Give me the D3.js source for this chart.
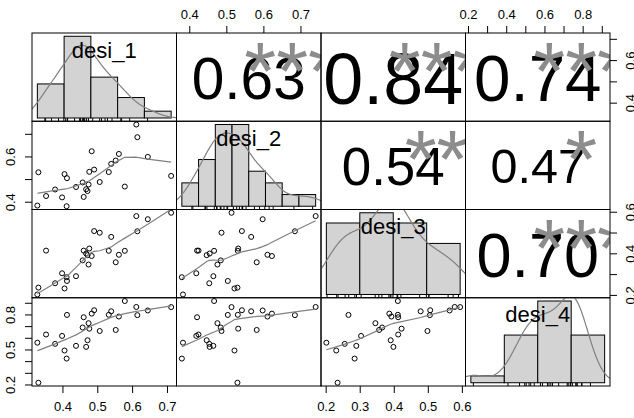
<!DOCTYPE html>
<html>
<head>
<meta charset="utf-8">
<script src="https://cdn.jsdelivr.net/npm/d3@7"></script>
<style>
body { margin: 0; background: #fff; }
text { font-family: "Liberation Sans", Arial, sans-serif; }
</style>
</head>
<body>
<script>
// 27 observations, one value per column
const names = ["desi_1", "desi_2", "desi_3", "desi_4"];
const desi1 = [0.331, 0.328, 0.353, 0.379, 0.399, 0.406, 0.412, 0.413, 0.439, 0.458, 0.461, 0.468, 0.472, 0.475,
  0.477, 0.484, 0.491, 0.507, 0.533, 0.540, 0.553, 0.562, 0.579, 0.612, 0.615, 0.645, 0.712];
const desi2 = [0.530, 0.383, 0.425, 0.454, 0.419, 0.522, 0.380, 0.504, 0.465, 0.485, 0.421, 0.455, 0.447, 0.476,
  0.532, 0.623, 0.542, 0.487, 0.531, 0.567, 0.582, 0.611, 0.467, 0.741, 0.685, 0.598, 0.514];
const desi3 = [0.235, 0.202, 0.413, 0.256, 0.304, 0.231, 0.285, 0.267, 0.290, 0.366, 0.413, 0.399, 0.391, 0.346,
  0.423, 0.387, 0.507, 0.499, 0.412, 0.479, 0.357, 0.393, 0.412, 0.579, 0.506, 0.564, 0.595];
const desi4 = [0.215, 0.558, 0.628, 0.548, 0.616, 0.491, 0.422, 0.796, 0.531, 0.688, 0.776, 0.522, 0.579, 0.725,
  0.678, 0.807, 0.836, 0.658, 0.797, 0.827, 0.667, 0.782, 0.915, 0.864, 0.794, 0.834, 0.863];

// correlations printed in the upper panels: (1,2) (1,3) (1,4) (2,3) (2,4) (3,4)
const corrPairs = [[0, 1], [0, 2], [0, 3], [1, 2], [1, 3], [2, 3]];
const corrVals = [0.63, 0.84, 0.74, 0.54, 0.47, 0.70];
const corrStars = ["***", "***", "***", "**", "*", "***"];

// histogram breaks
const breaks = [
  [0.3, 0.4, 0.5, 0.6, 0.7, 0.8],
  [0.35, 0.4, 0.45, 0.5, 0.55, 0.6, 0.65, 0.7, 0.75],
  [0.2, 0.3, 0.4, 0.5, 0.6],
  [0.2, 0.4, 0.6, 0.8, 1.0]
];

// axis ticks and which of them get a label
const ticks = [
  [0.4, 0.5, 0.6, 0.7],
  [0.4, 0.5, 0.6, 0.7],
  [0.2, 0.3, 0.4, 0.5, 0.6],
  [0.2, 0.3, 0.4, 0.5, 0.6, 0.7, 0.8, 0.9]
];
const hLabels = [[0.4, 0.5, 0.6, 0.7], [0.4, 0.5, 0.6, 0.7], [0.2, 0.3, 0.4, 0.5, 0.6], [0.2, 0.4, 0.6, 0.8]];
const vLabels = [[0.4, 0.6], [0.4, 0.6], [0.2, 0.4, 0.6], [0.2, 0.5, 0.8]];

const W = 634, H = 418;
const padL = 32, padT = 33, pw = 144.5, ph = 88.25;
const vars = [desi1, desi2, desi3, desi4];
const nv = vars.length;
const grey = "#808080", starGrey = "#8c8c8c";

const svg = d3.select("body").append("svg").attr("width", W).attr("height", H);

function padded(e) { const d = (e[1] - e[0]) * 0.04; return [e[0] - d, e[1] + d]; }

const xs = vars.map((v, j) => d3.scaleLinear().domain(padded(d3.extent(v))).range([padL + j * pw, padL + (j + 1) * pw]));
const ys = vars.map((v, i) => d3.scaleLinear().domain(padded(d3.extent(v))).range([padT + (i + 1) * ph, padT + i * ph]));

// R style lowess (clowess without delta shortcut)
function lowess(xv, yv, f = 2 / 3, iter = 3) {
  const order = d3.range(xv.length).sort((a, b) => xv[a] - xv[b]);
  const x = order.map(k => xv[k]), y = order.map(k => yv[k]);
  const n = x.length;
  const ns = Math.max(2, Math.min(n, Math.floor(f * n + 1e-7)));
  const range = x[n - 1] - x[0];
  let rw = new Array(n).fill(1);
  const fit = new Array(n).fill(0);
  for (let it = 1; it <= iter + 1; it++) {
    let nleft = 0, nright = ns - 1;
    for (let i = 0; i < n; i++) {
      const xi = x[i];
      while (nright < n - 1 && xi - x[nleft] > x[nright + 1] - xi) { nleft++; nright++; }
      const h = Math.max(xi - x[nleft], x[nright] - xi);
      const h9 = 0.999 * h, h1 = 0.001 * h;
      const w = new Array(n).fill(0);
      let a = 0, j = nleft;
      for (; j < n; j++) {
        const r = Math.abs(x[j] - xi);
        if (r <= h9) {
          w[j] = (r <= h1 ? 1 : Math.pow(1 - Math.pow(r / h, 3), 3)) * rw[j];
          a += w[j];
        } else if (x[j] > xi) break;
      }
      const nrt = j - 1;
      if (a <= 0) { fit[i] = y[i]; continue; }
      for (let k = nleft; k <= nrt; k++) w[k] /= a;
      if (h > 0) {
        let m = 0;
        for (let k = nleft; k <= nrt; k++) m += w[k] * x[k];
        let b = xi - m, c = 0;
        for (let k = nleft; k <= nrt; k++) c += w[k] * (x[k] - m) * (x[k] - m);
        if (Math.sqrt(c) > 0.001 * range) {
          b /= c;
          for (let k = nleft; k <= nrt; k++) w[k] *= (b * (x[k] - m) + 1);
        }
      }
      let s = 0;
      for (let k = nleft; k <= nrt; k++) s += w[k] * y[k];
      fit[i] = s;
    }
    if (it > iter) break;
    const ar = y.map((v, k) => Math.abs(v - fit[k]));
    const cmad = 6 * d3.median(ar);
    if (cmad < 1e-7 * d3.mean(ar)) break;
    const c9 = 0.999 * cmad, c1 = 0.001 * cmad;
    rw = ar.map(r => r <= c1 ? 1 : r <= c9 ? Math.pow(1 - (r / cmad) * (r / cmad), 2) : 0);
  }
  return x.map((v, k) => [v, fit[k]]);
}

// gaussian kernel density, bw.nrd0
function density(v) {
  const n = v.length;
  const s = v.slice().sort(d3.ascending);
  const iqr = d3.quantileSorted(s, 0.75) - d3.quantileSorted(s, 0.25);
  const bw = 0.9 * Math.min(d3.deviation(v), iqr / 1.34) * Math.pow(n, -0.2);
  const from = s[0] - 3 * bw, to = s[n - 1] + 3 * bw;
  return d3.range(512).map(k => {
    const x = from + (to - from) * k / 511;
    let sum = 0;
    for (const t of v) sum += Math.exp(-0.5 * ((x - t) / bw) ** 2);
    return [x, sum / (n * bw * Math.sqrt(2 * Math.PI))];
  });
}

const defs = svg.append("defs");
function clipFor(i, j) {
  const id = "clip" + i + "_" + j;
  defs.append("clipPath").attr("id", id).append("rect")
    .attr("x", padL + j * pw).attr("y", padT + i * ph).attr("width", pw).attr("height", ph);
  return "url(#" + id + ")";
}

const n = desi1.length;

for (let i = 0; i < nv; i++) {
  for (let j = 0; j < nv; j++) {
    const g = svg.append("g").attr("clip-path", clipFor(i, j));
    const x0 = padL + j * pw, y0 = padT + i * ph;

    if (i > j) {
      // scatter + smooth
      g.selectAll("circle").data(d3.range(n)).enter().append("circle")
        .attr("cx", k => xs[j](vars[j][k]))
        .attr("cy", k => ys[i](vars[i][k]))
        .attr("r", 2.5)
        .attr("fill", "none")
        .attr("stroke", "#000")
        .attr("stroke-width", 1);
      const sm = lowess(vars[j], vars[i]);
      g.append("path")
        .attr("d", d3.line().x(d => xs[j](d[0])).y(d => ys[i](d[1]))(sm))
        .attr("fill", "none").attr("stroke", grey).attr("stroke-width", 1.2);
    } else if (i < j) {
      const c = corrPairs.findIndex(p => p[0] === i && p[1] === j);
      const r = corrVals[c];
      const fs = 63 * (Math.abs(r) + 0.3);
      g.append("text")
        .attr("x", x0 + pw / 2)
        .attr("y", y0 + ph / 2 + 0.37 * fs)
        .attr("text-anchor", "middle")
        .attr("font-size", fs)
        .attr("fill", "#000")
        .text(r.toFixed(2));
      const sfs = 82;
      g.append("text")
        .attr("x", x0 + pw * 0.8)
        .attr("y", y0 + ph * 0.2 + 0.58 * sfs + 1)
        .attr("text-anchor", "middle")
        .attr("font-size", sfs)
        .attr("fill", starGrey)
        .text(corrStars[c]);
    } else {
      // histogram on its own coordinates
      const v = vars[i], br = breaks[i];
      const bins = d3.bin().domain([br[0], br[br.length - 1]]).thresholds(br.slice(1, -1))(v);
      const dens = bins.map(b => b.length / (n * (b.x1 - b.x0)));
      const dcurve = density(v);
      const hx = d3.scaleLinear().domain(padded([br[0], br[br.length - 1]])).range([x0, x0 + pw]);
      const hy = d3.scaleLinear().domain(padded([0, d3.max(dens)])).range([y0 + ph, y0]);
      g.selectAll("rect").data(bins).enter().append("rect")
        .attr("x", b => hx(b.x0))
        .attr("y", (b, k) => hy(dens[k]))
        .attr("width", b => hx(b.x1) - hx(b.x0))
        .attr("height", (b, k) => hy(0) - hy(dens[k]))
        .attr("fill", "#d3d3d3")
        .attr("stroke", "#000")
        .attr("stroke-width", 1);
      g.append("path")
        .attr("d", d3.line().x(d => hx(d[0])).y(d => hy(d[1]))(dcurve))
        .attr("fill", "none").attr("stroke", grey).attr("stroke-width", 1.2);
      g.selectAll("line.rug").data(v).enter().append("line")
        .attr("class", "rug")
        .attr("x1", d => hx(d)).attr("x2", d => hx(d))
        .attr("y1", y0 + ph).attr("y2", y0 + ph - 0.035 * ph)
        .attr("stroke", "#000").attr("stroke-width", 1);
      g.append("text")
        .attr("x", x0 + pw / 2)
        .attr("y", y0 + ph * (1 - 0.8333) + 10)
        .attr("text-anchor", "middle")
        .attr("font-size", 22)
        .attr("fill", "#000")
        .text(names[i]);
    }

    svg.append("rect")
      .attr("x", x0).attr("y", y0).attr("width", pw).attr("height", ph)
      .attr("fill", "none").attr("stroke", "#000").attr("stroke-width", 1);
  }
}

// axes, R pairs style: alternating sides
const fmt = d3.format(".1f");
function styleAxis(g) {
  g.select(".domain").remove();
  g.selectAll(".tick line").attr("stroke", "#000");
  g.selectAll(".tick text").attr("fill", "#000").attr("font-size", 13)
    .attr("font-family", '"Liberation Sans", Arial, sans-serif');
}
for (let j = 0; j < nv; j++) {
  const f = d => hLabels[j].includes(d) ? fmt(d) : "";
  if (j % 2 === 1) {
    svg.append("g").attr("transform", `translate(0,${padT})`)
      .call(d3.axisTop(xs[j]).tickValues(ticks[j]).tickSize(7).tickPadding(7.5).tickFormat(f))
      .call(styleAxis);
  } else {
    svg.append("g").attr("transform", `translate(0,${padT + nv * ph})`)
      .call(d3.axisBottom(xs[j]).tickValues(ticks[j]).tickSize(7).tickPadding(8.5).tickFormat(f))
      .call(styleAxis);
  }
}
for (let i = 0; i < nv; i++) {
  const f = d => vLabels[i].includes(d) ? fmt(d) : "";
  if (i % 2 === 1) {
    const g = svg.append("g").attr("transform", `translate(${padL},0)`)
      .call(d3.axisLeft(ys[i]).tickValues(ticks[i]).tickSize(7).tickFormat(f))
      .call(styleAxis);
    g.selectAll(".tick text").attr("x", 0).attr("dy", null).attr("text-anchor", "middle")
      .attr("transform", "translate(-17.5,0) rotate(-90)");
  } else {
    const g = svg.append("g").attr("transform", `translate(${padL + nv * pw},0)`)
      .call(d3.axisRight(ys[i]).tickValues(ticks[i]).tickSize(7).tickFormat(f))
      .call(styleAxis);
    g.selectAll(".tick text").attr("x", 0).attr("dy", null).attr("text-anchor", "middle")
      .attr("transform", "translate(25,0) rotate(-90)");
  }
}
</script>
</body>
</html>
